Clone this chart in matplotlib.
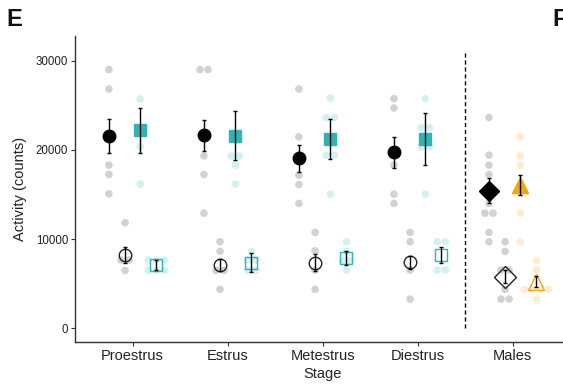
import numpy as np
import matplotlib
matplotlib.use("Agg")
import matplotlib.pyplot as plt

plt.rcParams['font.family'] = ['Liberation Sans', 'DejaVu Sans']

# ---------------- data ----------------
stages = ["Proestrus", "Estrus", "Metestrus", "Diestrus", "Males"]

# individual points: active (dark) phase, gray group
active_gray = [
    [29000, 26830, 18290, 17250, 15070],
    [29000, 29000, 19330, 17250, 12910],
    [26830, 21460, 17170, 16120, 14000],
    [25750, 24700, 18290, 15040, 14000],
    [23630, 19410, 18290, 17250, 14000, 12910, 12910, 10750, 9700],
]
# individual points: active phase, coloured group
active_col = [
    [25700, 20340, 16160],
    [19330, 19330, 18290, 16160],
    [25820, 23630, 23630, 19410, 19410, 15040],
    [25750, 22510, 22510, 20340, 20340, 15040],
    [21460, 19330, 18290, 15120, 15120, 12910, 9700],
]
# individual points: inactive (light) phase, gray group
inactive_gray = [
    [11830, 7650, 7650, 6490],
    [9700, 8620, 6490, 6490, 4370],
    [10750, 8690, 6530, 4370],
    [10750, 9700, 6530, 3280],
    [9700, 8620, 6530, 6530, 4370, 3280, 3280],
]
# individual points: inactive phase, coloured group
inactive_col = [
    [7650, 7650, 7650, 6490, 6490, 6490],
    [8620, 7650, 7650, 6490, 6490],
    [9700, 8620, 7570, 7570, 6530],
    [9700, 9700, 6530, 6530],
    [7570, 6530, 4370, 4370, 4370, 4370, 3280],
]

# means and SEM
mean_active_gray = [21570, 21650, 19040, 19710, 15410]
sem_active_gray = [1950, 1750, 1500, 1740, 1400]
mean_active_col = [22200, 21570, 21200, 21200, 16050]
sem_active_col = [2550, 2740, 2220, 2930, 1120]
mean_inactive_gray = [8210, 7090, 7350, 7390, 5780]
sem_inactive_gray = [900, 635, 940, 745, 745]
mean_inactive_col = [7090, 7350, 7840, 8210, 5230]
sem_inactive_col = [600, 1090, 800, 930, 600]

TEAL = "#2fb3b3"
GOLD = "#efa714"
GRAY_DOT = "#c4c4c4"


def swarm(vals, tol=600, spacing=0.085):
    """Simple beeswarm offsets: points with near-equal values spread sideways."""
    vals = np.asarray(vals, dtype=float)
    order = np.argsort(vals)
    offs = np.zeros(len(vals))
    groups = []
    cur = [order[0]]
    for i in order[1:]:
        if vals[i] - vals[cur[-1]] < tol:
            cur.append(i)
        else:
            groups.append(cur)
            cur = [i]
    groups.append(cur)
    for g in groups:
        n = len(g)
        for k, idx in enumerate(g):
            offs[idx] = (k - (n - 1) / 2) * spacing
    return offs


fig = plt.figure(figsize=(5.63, 3.88), dpi=100)
ax = fig.add_axes([0.1332, 0.1178, 0.8792, 0.7894])

xs = np.arange(1, len(stages) + 1)
dx = [-0.25, -0.08, 0.08, 0.25]

for i, x in enumerate(xs):
    male = (i == len(stages) - 1)
    col = GOLD if male else TEAL
    dot_col = "#fde6bd" if male else "#c6ecec"
    groups = [(active_gray[i], GRAY_DOT, dx[0]),
              (inactive_gray[i], GRAY_DOT, dx[1]),
              (active_col[i], dot_col, dx[2]),
              (inactive_col[i], dot_col, dx[3])]
    for pts, dcol, d in groups:
        off = swarm(pts)
        ax.scatter(x + d + off, pts, s=30, color=dcol, alpha=0.75,
                   edgecolors='none', zorder=1)

    fm = 'D' if male else 'o'
    sm = '^' if male else 's'
    fsz = 10 if male else 9
    ssz = 11 if male else 8.6

    # active gray (filled black)
    ax.plot(x + dx[0], mean_active_gray[i], marker=fm, ms=fsz, color='black',
            mec='black', ls='none', zorder=3)
    ax.errorbar(x + dx[0], mean_active_gray[i], yerr=sem_active_gray[i],
                fmt='none', ecolor='black', elinewidth=1, capsize=1.5, zorder=4)
    # inactive gray (open)
    ax.plot(x + dx[1], mean_inactive_gray[i], marker=fm, ms=(11 if male else 9), mfc='none',
            mec='#222222', mew=1, ls='none', zorder=3)
    ax.errorbar(x + dx[1], mean_inactive_gray[i], yerr=sem_inactive_gray[i],
                fmt='none', ecolor='black', elinewidth=1, capsize=1.5, zorder=4)
    # active coloured (filled)
    ax.plot(x + dx[2], mean_active_col[i], marker=sm, ms=ssz, color=col,
            mec=col, ls='none', zorder=3)
    ax.errorbar(x + dx[2], mean_active_col[i], yerr=sem_active_col[i],
                fmt='none', ecolor='black', elinewidth=1, capsize=1.5, zorder=4)
    # inactive coloured (open)
    ax.plot(x + dx[3], mean_inactive_col[i], marker=sm, ms=(11 if male else 8.6), mfc='none',
            mec=col, mew=1, ls='none', zorder=3)
    ax.errorbar(x + dx[3], mean_inactive_col[i], yerr=sem_inactive_col[i],
                fmt='none', ecolor='black', elinewidth=1, capsize=1.5, zorder=4)

# separator between females and males
ax.plot([4.5, 4.5], [0, 31000], color='black', lw=1, ls=(0, (3, 2)), zorder=2)

ax.set_xlim(0.393, 5.603)
ax.set_ylim(-1570, 32770)
ax.set_xticks(xs)
ax.set_xticklabels(stages, fontsize=10.5, color='#222222')
ax.set_yticks([0, 10000, 20000, 30000])
ax.set_yticklabels(["0", "10000", "20000", "30000"], fontsize=8.3, color='#222222')
ax.set_xlabel("Stage", fontsize=10.5, color='#222222', labelpad=3)
ax.set_ylabel("Activity (counts)", fontsize=10.5, color='#222222', labelpad=6)

for s in ['top', 'right']:
    ax.spines[s].set_visible(False)
for s in ['left', 'bottom']:
    ax.spines[s].set_color('#333333')
    ax.spines[s].set_linewidth(1.0)
ax.tick_params(axis='both', length=3, width=0.8, color='#333333', pad=2)

fig.text(0.012, 0.98, "E", fontsize=17, fontweight='bold', va='top', ha='left', color='#111111')
fig.text(0.982, 0.98, "F", fontsize=17, fontweight='bold', va='top', ha='left', color='#111111')

fig.savefig("out.png", dpi=100)
